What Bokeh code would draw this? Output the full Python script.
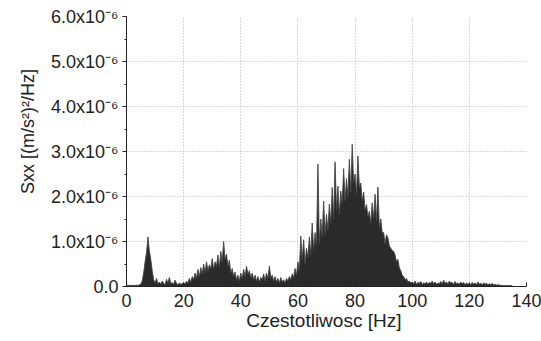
from bokeh.plotting import figure
from bokeh.models import Range1d, FixedTicker, ColumnDataSource
from bokeh.embed import file_html
from bokeh.resources import INLINE

# Spectrum values in units of 1e-6 (m/s^2)^2/Hz, 0.5 Hz steps from 0 Hz
freq_start = 0.0
freq_step = 0.5
sxx = [
    # 0 - 9.5 Hz
    0.02, 0.03, 0.02, 0.03, 0.02, 0.03, 0.02, 0.03, 0.02, 0.04,
    0.05, 0.12, 0.30, 0.55, 0.75, 1.10, 0.80, 0.60, 0.35, 0.15,
    # 10 - 19.5 Hz
    0.08, 0.18, 0.06, 0.10, 0.05, 0.12, 0.07, 0.04, 0.16, 0.08,
    0.20, 0.06, 0.09, 0.05, 0.14, 0.07, 0.04, 0.08, 0.05, 0.06,
    # 20 - 29.5 Hz
    0.09, 0.05, 0.12, 0.08, 0.18, 0.10, 0.22, 0.15, 0.30, 0.18,
    0.38, 0.22, 0.42, 0.28, 0.50, 0.30, 0.55, 0.35, 0.48, 0.40,
    # 30 - 39.5 Hz
    0.62, 0.38, 0.55, 0.45, 0.70, 0.42, 0.78, 0.55, 1.00, 0.60,
    0.72, 0.45, 0.58, 0.30, 0.40, 0.22, 0.32, 0.15, 0.25, 0.12,
    # 40 - 49.5 Hz
    0.30, 0.18, 0.38, 0.22, 0.45, 0.28, 0.35, 0.20, 0.30, 0.15,
    0.25, 0.12, 0.22, 0.10, 0.20, 0.15, 0.28, 0.12, 0.30, 0.18,
    # 50 - 59.5 Hz
    0.45, 0.20, 0.25, 0.12, 0.22, 0.10, 0.18, 0.08, 0.20, 0.10,
    0.15, 0.08, 0.18, 0.12, 0.22, 0.15, 0.28, 0.20, 0.40, 0.25,
    # 60 - 69.5 Hz
    0.55, 0.35, 1.12, 0.60, 1.04, 0.50, 0.85, 0.65, 1.10, 0.70,
    1.41, 0.80, 1.20, 0.90, 2.72, 0.95, 1.50, 1.10, 1.90, 1.15,
    # 70 - 79.5 Hz
    1.60, 1.25, 1.83, 1.40, 2.20, 1.50, 2.77, 1.70, 2.23, 1.60,
    2.12, 1.85, 2.62, 1.90, 2.40, 2.00, 2.83, 2.10, 3.16, 2.30,
    # 80 - 89.5 Hz
    2.50, 2.05, 2.90, 2.20, 2.30, 1.90, 2.10, 1.70, 1.82, 1.55,
    1.67, 1.40, 1.86, 1.50, 2.05, 1.45, 2.21, 1.30, 1.50, 1.20,
    # 90 - 99.5 Hz
    1.20, 0.95, 1.15, 1.08, 0.90, 0.85, 0.80, 0.78, 0.70, 0.55,
    0.60, 0.41, 0.35, 0.25, 0.22, 0.15, 0.18, 0.10, 0.12, 0.08,
    # 100 - 109.5 Hz
    0.10, 0.06, 0.12, 0.05, 0.09, 0.07, 0.11, 0.05, 0.08, 0.06,
    0.10, 0.05, 0.09, 0.07, 0.12, 0.06, 0.10, 0.05, 0.08, 0.06,
    # 110 - 119.5 Hz
    0.11, 0.06, 0.14, 0.07, 0.10, 0.05, 0.12, 0.08, 0.09, 0.05,
    0.11, 0.06, 0.08, 0.05, 0.10, 0.06, 0.09, 0.04, 0.08, 0.05,
    # 120 - 129.5 Hz
    0.07, 0.04, 0.09, 0.05, 0.08, 0.04, 0.10, 0.05, 0.07, 0.04,
    0.08, 0.05, 0.07, 0.04, 0.06, 0.04, 0.07, 0.03, 0.05, 0.03,
    # 130 - 135 Hz
    0.04, 0.03, 0.03, 0.02, 0.02, 0.02, 0.02, 0.02, 0.02, 0.02, 0.02,
]
freq = [freq_start + i * freq_step for i in range(len(sxx))]

x_ticks = [0, 20, 40, 60, 80, 100, 120, 140]
x_grid = [20, 40, 60, 80, 100, 120]
y_ticks = [0, 1, 2, 3, 4, 5, 6]
y_grid = [1, 2, 3, 4, 5]
y_minor = [0.5, 1.5, 2.5, 3.5, 4.5, 5.5]
y_tick_labels = ["0.0", "1.0x10\u207b\u2076", "2.0x10\u207b\u2076", "3.0x10\u207b\u2076",
                 "4.0x10\u207b\u2076", "5.0x10\u207b\u2076", "6.0x10\u207b\u2076"]

x_label = "Czestotliwosc  [Hz]"
y_label = "Sxx  [(m/s\u00b2)\u00b2/Hz]"

FONT = "Liberation Sans"
INK = "#222222"
SPEC = "#2a2a2a"

p = figure(width=541, height=341, output_backend="svg", toolbar_location=None,
           x_range=Range1d(0, 140), y_range=Range1d(0, 6),
           min_border_left=126, min_border_right=15, min_border_top=16, min_border_bottom=55)
p.outline_line_color = None
p.background_fill_color = "white"

src = ColumnDataSource(dict(f=freq, v=sxx))
p.varea(x="f", y1=0, y2="v", source=src, fill_color=SPEC)
p.line(x="f", y="v", source=src, line_color="#444444", line_width=0.9)

# grids
p.xgrid.ticker = FixedTicker(ticks=x_grid)
p.ygrid.ticker = FixedTicker(ticks=y_grid)
for g in (p.xgrid, p.ygrid):
    g.grid_line_color = "#b5b5b5"
    g.grid_line_dash = "1 2"
    g.grid_line_width = 1

# axes
xa = p.xaxis[0]
ya = p.yaxis[0]
xa.ticker = FixedTicker(ticks=x_ticks, minor_ticks=[])
ya.ticker = FixedTicker(ticks=y_ticks, minor_ticks=y_minor)
ya.major_label_overrides = {float(t): lab for t, lab in zip(y_ticks, y_tick_labels)}

for ax in (xa, ya):
    ax.axis_line_color = INK
    ax.major_tick_line_color = INK
    ax.minor_tick_line_color = INK
    ax.major_label_text_font = FONT
    ax.major_label_text_font_size = "18px"
    ax.major_label_text_color = INK
    ax.axis_label_text_font = FONT
    ax.axis_label_text_font_style = "normal"
    ax.axis_label_text_color = INK

xa.axis_label = x_label
xa.axis_label_text_font_size = "19px"
xa.major_tick_in = 4
xa.major_tick_out = 0
xa.major_label_standoff = 7
xa.axis_label_standoff = 0

# the reference's y title sits above the axis centre; pad its start with no-break spaces
ya.axis_label = "\u00a0" * 9 + y_label
ya.axis_label_text_font_size = "18px"
ya.major_tick_in = 0
ya.major_tick_out = 4
ya.minor_tick_in = 0
ya.minor_tick_out = 2
ya.major_label_standoff = 4
ya.axis_label_standoff = 10

open("out.html", "w").write(file_html(p, INLINE))
